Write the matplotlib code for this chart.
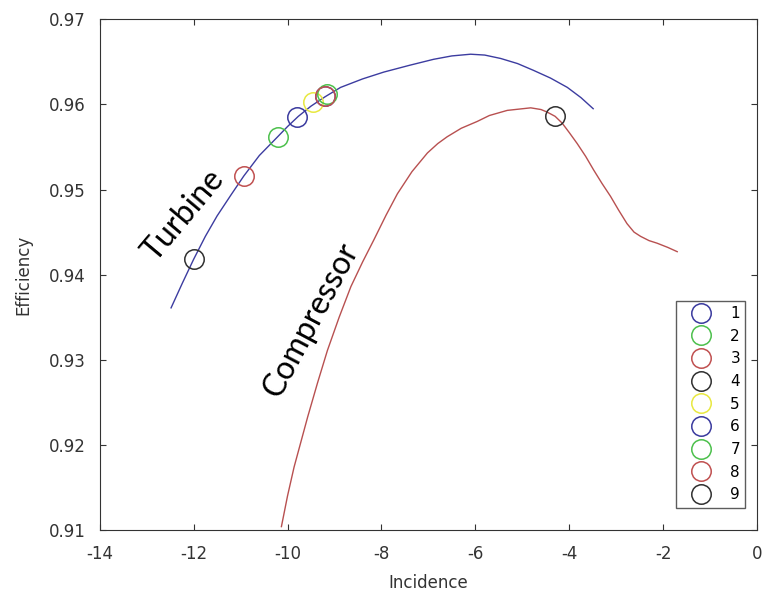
import numpy as np
import matplotlib
matplotlib.use("Agg")
import matplotlib.pyplot as plt

plt.rcParams["axes.unicode_minus"] = False

# turbine efficiency curve
turb_x = [-12.48, -12.24, -12.0, -11.75, -11.5, -11.2, -10.93, -10.6, -10.21, -10.0, -9.77,
          -9.5, -9.2, -8.87, -8.4, -7.95, -7.4, -6.89, -6.5, -6.1, -5.8, -5.46, -5.1,
          -4.76, -4.4, -4.04, -3.75, -3.49]
turb_y = [0.9361, 0.9390, 0.9418, 0.9445, 0.9469, 0.9494, 0.9516, 0.9540, 0.9562, 0.9574, 0.9586,
          0.9598, 0.9609, 0.9620, 0.9630, 0.9638, 0.9646, 0.9653, 0.9657, 0.9659, 0.9658, 0.9654, 0.9648,
          0.9640, 0.9631, 0.9620, 0.9608, 0.9595]

# compressor efficiency curve
comp_x = [-10.13, -10.0, -9.86, -9.57, -9.36, -9.15, -8.9, -8.65, -8.4, -8.16, -7.9, -7.66,
          -7.35, -7.02, -6.8, -6.6, -6.3, -5.96, -5.7, -5.32, -4.82, -4.6, -4.47, -4.3,
          -4.15, -4.0, -3.83, -3.65, -3.48, -3.3, -3.12, -2.95, -2.77, -2.62, -2.48,
          -2.3, -2.13, -1.9, -1.70]
comp_y = [0.9104, 0.9140, 0.9174, 0.9233, 0.9273, 0.9311, 0.9350, 0.9386, 0.9415, 0.9441, 0.9470, 0.9495,
          0.9521, 0.9543, 0.9554, 0.9562, 0.9572, 0.9580, 0.9587, 0.9593, 0.9596, 0.9594, 0.9591, 0.9586,
          0.9578, 0.9567, 0.9554, 0.9539, 0.9523, 0.9507, 0.9492, 0.9476, 0.9460, 0.9450, 0.9445,
          0.9440, 0.9437, 0.9432, 0.9427]

# operating points 1..9
pt_labels = ["1", "2", "3", "4", "5", "6", "7", "8", "9"]
pt_x = [-9.2, -10.2, -10.93, -4.3, -9.45, -9.8, -9.15, -9.2, -12.0]
pt_y = [0.9610, 0.9562, 0.9516, 0.9586, 0.9603, 0.9585, 0.9612, 0.9610, 0.9418]
pt_colors = ["#3a3a9e", "#4cc04c", "#c05050", "#303030", "#e8e840",
             "#3a3a9e", "#4cc04c", "#c05050", "#303030"]

fig = plt.figure(figsize=(7.67, 5.98), dpi=100)
ax = fig.add_axes([0.130, 0.1137, 0.857, 0.854])

ax.plot(turb_x, turb_y, color="#3c3ca0", lw=1.0)
ax.plot(comp_x, comp_y, color="#b85050", lw=1.0)

for lab, x, y, c in zip(pt_labels, pt_x, pt_y, pt_colors):
    ax.plot(x, y, "o", mfc="none", mec=c, ms=14, mew=1.1, label=lab, ls="none")

ax.text(-12.21, 0.9470, "Turbine", rotation=50, fontsize=23, family="Lato",
        ha="center", va="center")
ax.text(-9.50, 0.9347, "Compressor", rotation=62, fontsize=23, family="Lato",
        ha="center", va="center")

ax.set_xlim(-14, 0)
ax.set_ylim(0.91, 0.97)
ax.set_xticks(np.arange(-14, 1, 2))
ax.set_yticks(np.arange(0.91, 0.9701, 0.01))
ax.set_yticklabels(["0.91", "0.92", "0.93", "0.94", "0.95", "0.96", "0.97"])
ax.set_xlabel("Incidence", fontsize=12, color="#333333", labelpad=8)
ax.set_ylabel("Efficiency", fontsize=12, color="#333333", labelpad=12)
ax.tick_params(direction="in", top=True, right=True, labelsize=12,
               colors="#333333", length=4)
ax.tick_params(axis="x", pad=11)
ax.tick_params(axis="y", pad=10)
for s in ax.spines.values():
    s.set_color("#333333")

leg = ax.legend(loc="lower right", bbox_to_anchor=(0.994, 0.029), fontsize=11,
                frameon=True, fancybox=False, edgecolor="#333333",
                labelspacing=0.5, handletextpad=0.6, borderpad=0.35,
                handlelength=2.6, markerscale=1.0)
leg.get_frame().set_linewidth(1.0)

fig.savefig("out.png", dpi=100)
